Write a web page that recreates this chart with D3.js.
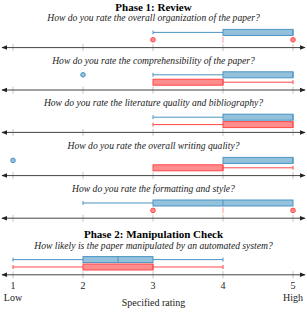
<!DOCTYPE html>
<html>
<head>
<meta charset="utf-8">
<script src="https://cdn.jsdelivr.net/npm/d3@7"></script>
<style>
  body { margin: 0; background: #fff; }
  text { font-family: "Liberation Serif", "Times New Roman", serif; }
</style>
</head>
<body>
<svg id="chart"></svg>
<script>
// Questions and phase headers
const questions = [
  "How do you rate the overall organization of the paper?",
  "How do you rate the comprehensibility of the paper?",
  "How do you rate the literature quality and bibliography?",
  "How do you rate the overall writing quality?",
  "How do you rate the formatting and style?",
  "How likely is the paper manipulated by an automated system?"
];
const phaseTitles = ["Phase 1: Review", "Phase 2: Manipulation Check"];
const tickValues = [1, 2, 3, 4, 5];

// Blue series (box stats per question)
const blueLo  = [3, 3, 3, 4, 2, 1];
const blueQ1  = [4, 4, 4, 4, 3, 2];
const blueMed = [5, 5, 5, 5, 4, 2.5];
const blueQ3  = [5, 5, 5, 5, 5, 3];
const blueHi  = [5, 5, 5, 5, 5, 4];
const blueOut = [[], [2], [], [1], [], []];

// Red series
const redLo  = [4, 3, 3, 3, 4, 1];
const redQ1  = [4, 3, 4, 3, 4, 2];
const redMed = [4, 4, 5, 4, 4, 3];
const redQ3  = [4, 4, 5, 4, 4, 3];
const redHi  = [4, 5, 5, 5, 4, 4];
const redOut = [[3, 5], [], [], [], [3, 5], []];

const width = 307, height = 312;
const svg = d3.select("#chart").attr("width", width).attr("height", height);

const x = d3.scaleLinear().domain([1, 5]).range([13, 293]);

// vertical position of each question's axis
const axisY = [47.6, 90, 132.4, 175.6, 218.2, 274.8];

const series = [
  {lo: blueLo, q1: blueQ1, med: blueMed, q3: blueQ3, hi: blueHi, out: blueOut,
   stroke: "#4b93c3", fill: "#94c1dc", dy: -15.2},
  {lo: redLo, q1: redQ1, med: redMed, q3: redQ3, hi: redHi, out: redOut,
   stroke: "#ff4747", fill: "#ff8d8d", dy: -7.8}
];

// arrow markers
const defs = svg.append("defs");
defs.append("marker").attr("id", "arr").attr("viewBox", "0 0 10 10")
  .attr("refX", 9).attr("refY", 5).attr("markerWidth", 6).attr("markerHeight", 6)
  .attr("markerUnits", "userSpaceOnUse").attr("orient", "auto-start-reverse")
  .append("path").attr("d", "M0,1 L10,5 L0,9 z").attr("fill", "#222");

// phase titles
svg.append("text").attr("x", 153.5).attr("y", 11).attr("text-anchor", "middle")
  .attr("font-size", 11).attr("font-weight", "bold").text(phaseTitles[0]);
svg.append("text").attr("x", 153.5).attr("y", 237.5).attr("text-anchor", "middle")
  .attr("font-size", 11).attr("font-weight", "bold").text(phaseTitles[1]);

const bh = 6;

questions.forEach(function(q, i) {
  const ay = axisY[i];
  const g = svg.append("g");

  // question
  g.append("text").attr("x", 153.5).attr("y", ay - 26.2).attr("text-anchor", "middle")
    .attr("font-size", 9.6).attr("font-style", "italic").attr("fill", "#222").text(q);

  // ticks
  g.selectAll(".tk").data(tickValues).join("line")
    .attr("x1", d => x(d)).attr("x2", d => x(d))
    .attr("y1", ay - 3.5).attr("y2", ay + 3.5)
    .attr("stroke", "#c4c4c4").attr("stroke-width", 1);

  // axis line with arrows
  g.append("line").attr("x1", 2).attr("x2", 305).attr("y1", ay).attr("y2", ay)
    .attr("stroke", "#444").attr("stroke-width", 1)
    .attr("marker-start", "url(#arr)").attr("marker-end", "url(#arr)");

  series.forEach(function(s) {
    const cy = ay + s.dy;
    // whiskers
    g.append("line").attr("x1", x(s.lo[i])).attr("x2", x(s.q1[i]))
      .attr("y1", cy).attr("y2", cy).attr("stroke", s.stroke).attr("stroke-width", 1);
    g.append("line").attr("x1", x(s.q3[i])).attr("x2", x(s.hi[i]))
      .attr("y1", cy).attr("y2", cy).attr("stroke", s.stroke).attr("stroke-width", 1);
    // caps
    [s.lo[i], s.hi[i]].forEach(function(v) {
      if (v !== s.q1[i] && v !== s.q3[i]) {
        g.append("line").attr("x1", x(v)).attr("x2", x(v))
          .attr("y1", cy - 2).attr("y2", cy + 2)
          .attr("stroke", s.stroke).attr("stroke-width", 1);
      }
    });
    // box
    if (s.q3[i] > s.q1[i]) {
      g.append("rect").attr("x", x(s.q1[i])).attr("y", cy - bh / 2)
        .attr("width", x(s.q3[i]) - x(s.q1[i])).attr("height", bh)
        .attr("fill", s.fill).attr("stroke", s.stroke).attr("stroke-width", 1);
    }
    // median
    g.append("line").attr("x1", x(s.med[i])).attr("x2", x(s.med[i]))
      .attr("y1", cy - bh / 2).attr("y2", cy + bh / 2)
      .attr("stroke", s.q3[i] > s.q1[i] ? s.stroke : "#ff9a9a").attr("stroke-width", 1);
    // outliers
    g.selectAll(null).data(s.out[i]).join("circle")
      .attr("cx", d => x(d)).attr("cy", cy).attr("r", 2.3)
      .attr("fill", s.fill).attr("stroke", s.stroke).attr("stroke-width", 1);
  });
});

// bottom tick labels
const lastY = axisY[axisY.length - 1];
svg.selectAll(".lbl").data(tickValues).join("text")
  .attr("x", d => x(d)).attr("y", lastY + 14.5).attr("text-anchor", "middle")
  .attr("font-size", 10).attr("fill", "#222").text(d => d);
svg.append("text").attr("x", x(1)).attr("y", lastY + 26).attr("text-anchor", "middle")
  .attr("font-size", 10).attr("fill", "#222").text("Low");
svg.append("text").attr("x", x(5)).attr("y", lastY + 26).attr("text-anchor", "middle")
  .attr("font-size", 10).attr("fill", "#222").text("High");
svg.append("text").attr("x", 153.5).attr("y", lastY + 31).attr("text-anchor", "middle")
  .attr("font-size", 10).attr("fill", "#222").text("Specified rating");
</script>
</body>
</html>
